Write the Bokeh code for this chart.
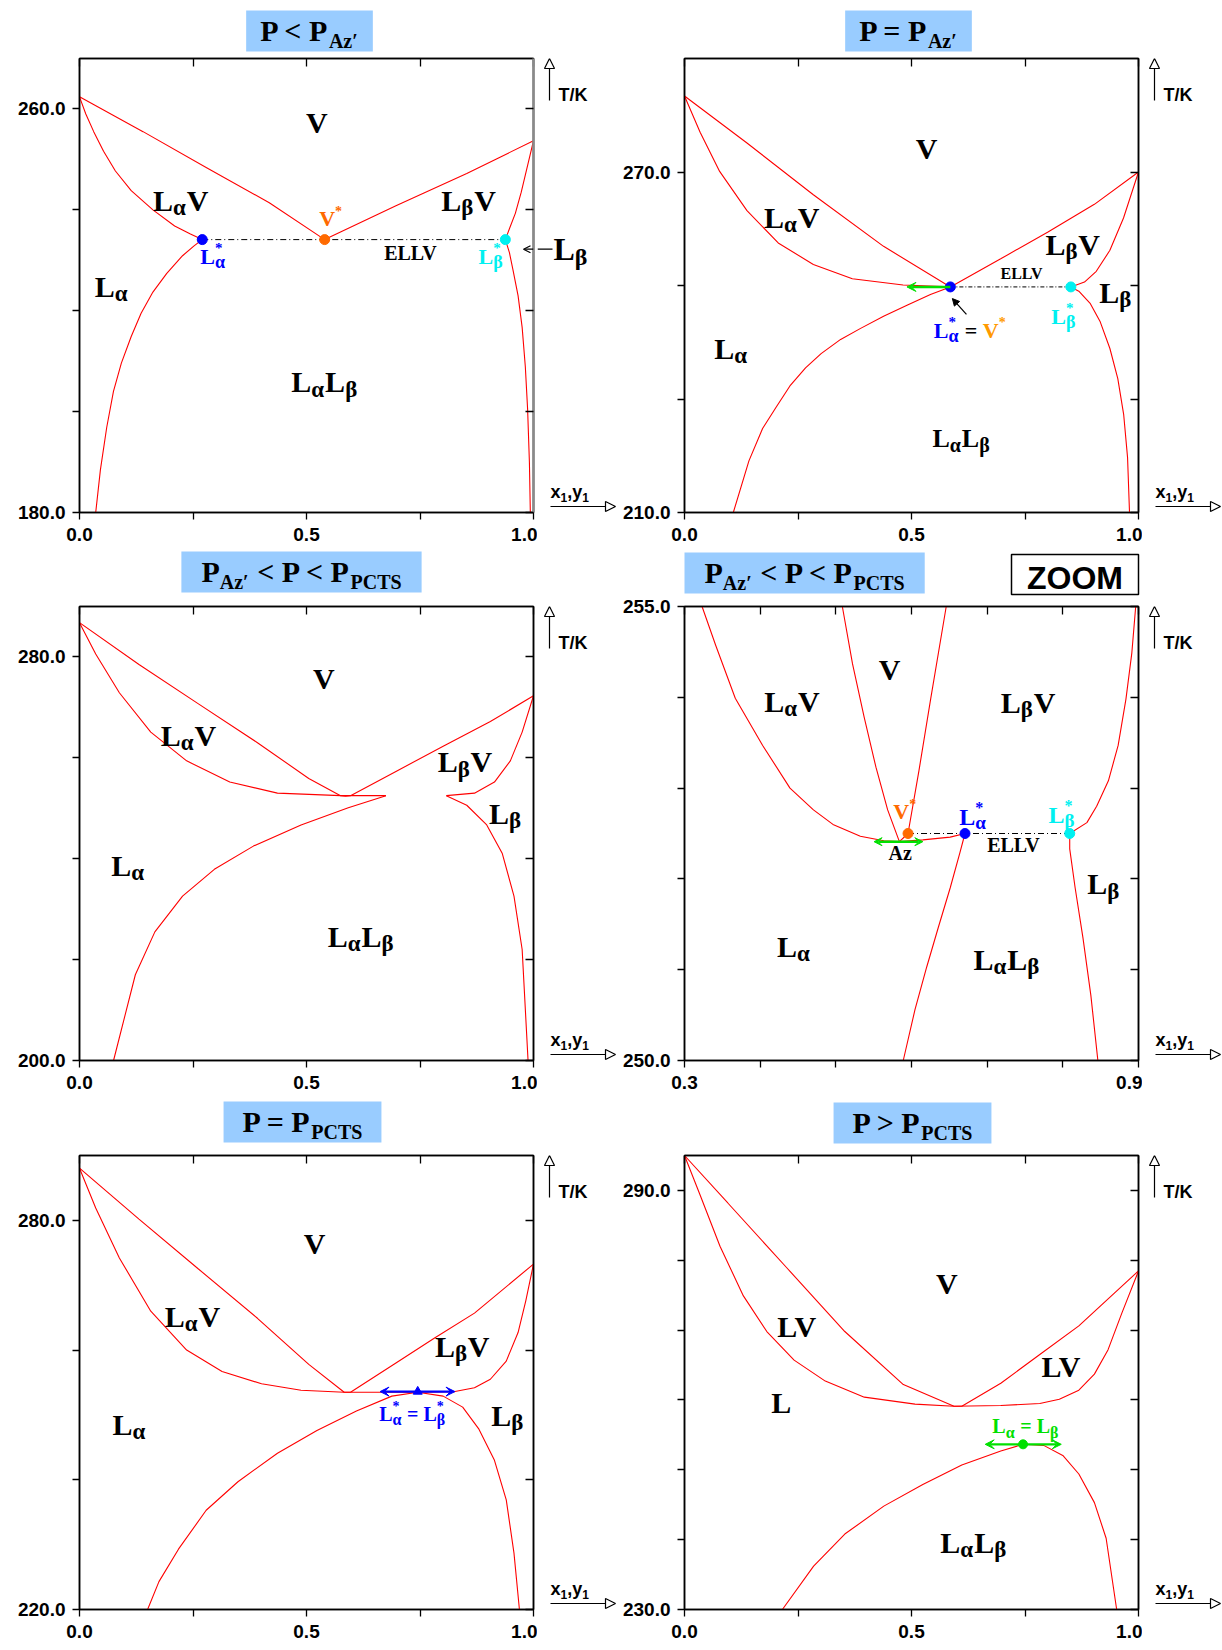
from bokeh.plotting import figure
from bokeh.models import (Range1d, LinearAxis, FixedTicker, PrintfTickFormatter,
                          Label, Arrow, NormalHead, VeeHead, OpenHead)
from bokeh.layouts import row, column
from bokeh.embed import file_html
from bokeh.resources import INLINE

# ------------------------------------------------------------------ data
# Panel 1 : P < P_Az'
P1_DEW_X = [0.0, 0.14, 0.279, 0.418, 0.54, 0.697, 0.853, 1.0]
P1_DEW_T = [262.4, 255.5, 248.4, 241.4, 234.1, 240.8, 247.2, 253.7]
P1_BUBA_X = [0.0, 0.0139, 0.0313, 0.053, 0.0791, 0.1139, 0.1617, 0.2096, 0.2443, 0.2704]
P1_BUBA_T = [262.4, 259.0, 255.5, 251.6, 247.7, 243.8, 240.0, 236.8, 235.2, 234.1]
P1_SOLA_X = [0.2704, 0.2530, 0.2270, 0.1922, 0.1617, 0.1357, 0.1139, 0.0922, 0.0748, 0.0600, 0.0461, 0.0357]
P1_SOLA_T = [234.1, 232.9, 230.9, 227.4, 223.7, 219.5, 214.9, 209.6, 204.0, 196.9, 188.5, 180.0]
P1_BUBB_X = [0.938, 0.948, 0.960, 0.973, 0.986, 1.0]
P1_BUBB_T = [234.1, 236.5, 239.3, 243.5, 248.4, 253.7]
P1_SOLB_X = [0.938, 0.947, 0.955, 0.966, 0.975, 0.982, 0.987, 0.991, 0.993]
P1_SOLB_T = [234.1, 231.5, 228.0, 223.0, 216.7, 208.9, 200.5, 189.9, 180.0]
P1_3PH_X = [0.2704, 0.54, 0.938]
P1_3PH_T = [234.1, 234.1, 234.1]
P1_LB_ARROW_T = 232.2

# Panel 2 : P = P_Az'
P2_DEW_X = [0.0, 0.1376, 0.2838, 0.4385, 0.5856, 0.6965, 0.7997, 0.9028, 1.0]
P2_DEW_T = [283.4, 275.1, 266.0, 256.9, 249.75, 254.7, 259.4, 264.3, 270.0]
P2_BUBA_X = [0.0, 0.0344, 0.0774, 0.1376, 0.2064, 0.2838, 0.3697, 0.4815, 0.5856]
P2_BUBA_T = [283.4, 277.0, 270.1, 263.2, 257.5, 253.7, 251.2, 250.1, 249.75]
P2_SOLA_X = [0.5856, 0.5417, 0.4901, 0.4385, 0.3869, 0.3439, 0.3009, 0.2666, 0.2322, 0.2021, 0.1720, 0.1419, 0.1075]
P2_SOLA_T = [249.75, 248.4, 246.5, 244.6, 242.4, 240.5, 238.0, 235.5, 232.3, 228.6, 224.8, 219.1, 210.0]
P2_BUBB_X = [0.851, 0.881, 0.907, 0.937, 0.967, 1.0]
P2_BUBB_T = [249.75, 250.6, 252.5, 256.2, 261.9, 270.0]
P2_SOLB_X = [0.851, 0.8685, 0.894, 0.9157, 0.937, 0.9544, 0.9673, 0.9759, 0.9802]
P2_SOLB_T = [249.75, 249.0, 246.8, 243.6, 238.9, 233.6, 227.3, 219.7, 210.0]
P2_3PH_X = [0.5856, 0.851]
P2_3PH_T = [249.75, 249.75]
P2_GREEN_X = [0.5856, 0.49]
P2_GREEN_T = [249.75, 249.75]
P2_BLACK_X = [0.621, 0.590]
P2_BLACK_T = [244.9, 247.7]

# Panel 3 : P_Az' < P < P_PCTS
P3_DEW_X = [0.0, 0.131, 0.262, 0.392, 0.505, 0.575, 0.586, 0.597, 0.697, 0.801, 0.905, 1.0]
P3_DEW_T = [286.8, 278.5, 270.7, 263.0, 255.9, 252.5, 252.4, 252.5, 257.3, 262.3, 267.2, 272.3]
P3_BUBA_X = [0.0, 0.0357, 0.0878, 0.157, 0.236, 0.331, 0.436, 0.575, 0.675]
P3_BUBA_T = [286.8, 280.6, 272.9, 265.1, 259.4, 255.2, 253.0, 252.5, 252.5]
P3_SOLA_X = [0.675, 0.592, 0.488, 0.383, 0.297, 0.227, 0.166, 0.123, 0.075]
P3_SOLA_T = [252.5, 250.1, 246.7, 242.5, 237.9, 232.6, 225.5, 217.0, 200.0]
P3_BUBB_X = [0.808, 0.870, 0.914, 0.949, 0.975, 1.0]
P3_BUBB_T = [252.5, 253.0, 255.2, 259.4, 265.1, 272.3]
P3_SOLB_X = [0.808, 0.853, 0.897, 0.931, 0.957, 0.975, 0.988]
P3_SOLB_T = [252.5, 250.6, 246.7, 241.1, 232.6, 222.0, 200.0]

# Panel 4 : zoom of panel 3
P4_BUBA_X = [0.3232, 0.3413, 0.3671, 0.4033, 0.4394, 0.4704, 0.4962, 0.5324, 0.5634, 0.5840, 0.6150, 0.6511, 0.6707]
P4_BUBA_T = [255.0, 254.57, 253.99, 253.47, 253.00, 252.76, 252.60, 252.47, 252.42, 252.41, 252.43, 252.46, 252.50]
P4_DEW_X = [0.5086, 0.5220, 0.5375, 0.5530, 0.5685, 0.5840, 0.5954, 0.6098, 0.6253, 0.6459]
P4_DEW_T = [255.0, 254.37, 253.78, 253.23, 252.76, 252.41, 252.50, 253.19, 253.98, 255.0]
P4_SOLA_X = [0.6707, 0.6640, 0.6511, 0.6356, 0.6201, 0.6046, 0.5891]
P4_SOLA_T = [252.50, 252.29, 251.90, 251.47, 251.03, 250.56, 250.0]
P4_BUBB_X = [0.8091, 0.8318, 0.8447, 0.8602, 0.8731, 0.8834, 0.8912, 0.8963]
P4_BUBB_T = [252.50, 252.62, 252.80, 253.08, 253.47, 253.98, 254.49, 255.0]
P4_SOLB_X = [0.8091, 0.8091, 0.8163, 0.8266, 0.8370, 0.8463]
P4_SOLB_T = [252.50, 252.33, 251.90, 251.35, 250.72, 250.0]
P4_3PH_X = [0.5954, 0.6707, 0.8091]
P4_3PH_T = [252.5, 252.5, 252.5]
P4_AZ_X = [0.5505, 0.6150]
P4_AZ_T = [252.41, 252.41]

# Panel 5 : P = P_PCTS
P5_DEW_X = [0.0, 0.131, 0.262, 0.392, 0.505, 0.583, 0.597, 0.697, 0.783, 0.870, 1.0]
P5_DEW_T = [288.05, 280.2, 272.5, 264.9, 257.8, 253.5, 253.5, 258.0, 261.9, 265.7, 273.26]
P5_BUB_X = [0.0, 0.0357, 0.0878, 0.157, 0.236, 0.314, 0.401, 0.488, 0.583, 0.662, 0.745, 0.827, 0.870, 0.905, 0.940, 0.966, 0.983, 1.0]
P5_BUB_T = [288.05, 281.9, 274.2, 266.0, 260.0, 256.7, 254.8, 253.8, 253.5, 253.5, 253.5, 253.6, 254.2, 255.5, 258.3, 262.7, 267.6, 273.26]
P5_SOLA_X = [0.745, 0.688, 0.610, 0.523, 0.436, 0.349, 0.279, 0.218, 0.175, 0.150]
P5_SOLA_T = [253.5, 252.9, 250.6, 247.6, 244.1, 239.7, 235.3, 229.3, 224.3, 220.0]
P5_SOLB_X = [0.745, 0.801, 0.844, 0.879, 0.914, 0.940, 0.957, 0.969]
P5_SOLB_T = [253.5, 252.9, 251.2, 247.9, 243.0, 236.9, 228.7, 220.0]
P5_PCTS_X = [0.662, 0.827]
P5_PCTS_T = [253.6, 253.6]
P5_MID_X = [0.745]
P5_MID_T = [253.6]

# Panel 6 : P > P_PCTS
P6_DEW_X = [0.0, 0.0954, 0.2242, 0.3531, 0.4820, 0.5936, 0.6108, 0.6967, 0.7826, 0.8686, 1.0]
P6_DEW_T = [295.0, 288.2, 279.0, 269.8, 262.2, 259.1, 259.1, 262.4, 266.5, 270.6, 278.47]
P6_BUB_X = [0.0, 0.0352, 0.0782, 0.1297, 0.1813, 0.2414, 0.3101, 0.3961, 0.5077, 0.5936, 0.6967, 0.7826, 0.8256, 0.8686, 0.9029, 0.9330, 0.9631, 1.0]
P6_BUB_T = [295.0, 289.2, 282.0, 274.9, 269.8, 265.7, 262.7, 260.4, 259.4, 259.1, 259.2, 259.5, 260.1, 261.4, 263.7, 267.2, 272.4, 278.47]
P6_LLE_X = [0.2156, 0.2844, 0.3531, 0.4390, 0.5249, 0.6108, 0.6967, 0.7457, 0.7912, 0.8342, 0.8686, 0.9029, 0.9287, 0.9519]
P6_LLE_T = [230.0, 236.2, 240.8, 244.8, 247.9, 250.7, 252.7, 253.65, 253.5, 252.0, 249.4, 245.3, 240.2, 230.0]
P6_UCST_X = [0.6624, 0.8299]
P6_UCST_T = [253.65, 253.65]
P6_MID_X = [0.7457]
P6_MID_T = [253.65]

# axes
X_RANGE = (0.0, 1.0)
X_MAJOR = [0.0, 0.5, 1.0]
X_MINOR = [0.25, 0.75]
P4_X_RANGE = (0.3, 0.9)
P4_X_MAJOR = [0.3, 0.9]
P4_X_MINOR = [0.4, 0.5, 0.6, 0.7, 0.8]
P1_Y = (180.0, 270.0, [180.0, 260.0], [200.0, 220.0, 240.0])
P2_Y = (210.0, 290.0, [210.0, 270.0], [230.0, 250.0])
P3_Y = (200.0, 290.0, [200.0, 280.0], [220.0, 240.0, 260.0])
P4_Y = (250.0, 255.0, [250.0, 255.0], [251.0, 252.0, 253.0, 254.0])
P5_Y = (220.0, 290.0, [220.0, 280.0], [240.0, 260.0])
P6_Y = (230.0, 295.0, [230.0, 290.0], [240.0, 250.0, 260.0, 270.0, 280.0])

# ------------------------------------------------------------------ style / layout
SERIF = "Liberation Serif"
SANS = "Liberation Sans"
K = "black"
RED = "#FF0000"
BLUE = "#0000FF"
CYAN = "#00F0F0"
ORANGE = "#FF6A00"
ORANGE2 = "#FF9A00"
GREEN = "#00E000"
TITLE_BG = "#99CCFF"
FRAME = 454
PAGE_W = 1221
COL_X = [79, 684]          # page x of each column's plot frame
PW = [537, 525]            # plot figure widths
PBL = [79, 67]             # plot left borders
PBR = 4
PBT = [4, 10, 4]           # plot top borders per row
SW = [80, 79]              # side strip widths
PBB = [38, 40, 39]
PH = [PBT[i] + FRAME + PBB[i] for i in range(3)]
TH = [54, 46, 51]          # title strip heights
BASE_FIX = {"Liberation Serif": 0.32, "Liberation Sans": 0.26}

SERIF_W = {"L": .667, "V": .722, "P": .611, "A": .722, "z": .444, "C": .722, "T": .667,
           "S": .556, "E": .667, " ": .25, "<": .57, ">": .57, "=": .57, "*": .5,
           "\u2032": .33, "\u03b1": .60, "\u03b2": .56}
SANS_W = {"T": .611, "/": .278, "K": .722, "x": .556, "y": .556, ",": .278, "1": .556,
          "Z": .611, "O": .778, "M": .833}


def run_w(text, size, font):
    tbl = SANS_W if font == SANS else SERIF_W
    return sum(tbl.get(c, 0.55) for c in text) * size


def runs_w(runs, font=SERIF):
    return sum(run_w(r[0], r[1], font) for r in runs if r[4])


def rich(p, x, y, runs, align="center", font=SERIF, ox=0.0, oy=0.0):
    total = runs_w(runs, font)
    cur = {"left": 0.0, "center": -total / 2.0, "right": -total}[align]
    for text, size, dy, color, adv in runs:
        w = run_w(text, size, font)
        lead = len(text) - len(text.lstrip(" "))
        p.add_layout(Label(x=x, y=y, x_offset=ox + cur + lead * 0.25 * size,
                           y_offset=oy + dy + BASE_FIX[font] * size,
                           text=text.strip(" "), text_font=font, text_font_size=f"{size}px",
                           text_font_style="bold", text_color=color, text_align="left",
                           text_baseline="alphabetic"))
        if adv:
            cur += w


A, B = "\u03b1", "\u03b2"


def Lg(g, s=30, ss=23, c=K):
    return [("L", s, 0, c, 1), (g, ss, -5, c, 1)]


def LV(g, s=30, ss=23):
    return Lg(g, s, ss) + [("V", s, 0, K, 1)]


def LL(s=30, ss=23):
    return Lg(A, s, ss) + Lg(B, s, ss)


def Lstar(g, c, s=22):
    return [("L", s, 0, c, 1), ("*", round(s * 0.68), round(s * 0.5), c, 0),
            (g, round(s * 0.8), -4, c, 1)]


def blank(width, height, xr, yr, bt=0, bb=0):
    f = figure(width=width, height=height, x_range=Range1d(*xr), y_range=Range1d(*yr),
               x_axis_type=None, y_axis_type=None, min_border=0, toolbar_location=None,
               output_backend="svg")
    f.min_border_left = 0
    f.min_border_right = 0
    f.min_border_top = bt
    f.min_border_bottom = bb
    f.outline_line_color = None
    f.background_fill_color = "white"
    f.border_fill_color = "white"
    return f


def panel(col, rw, xr, xmaj, xmin, ydef, right_color=K, right_w=1.5):
    y0, y1, ymaj, ymin = ydef
    p = figure(width=PW[col], height=PH[rw], x_range=Range1d(*xr), y_range=Range1d(y0, y1),
               output_backend="svg", toolbar_location=None,
               min_border_left=PBL[col], min_border_right=PBR,
               min_border_top=PBT[rw], min_border_bottom=PBB[rw])
    p.xgrid.visible = False
    p.ygrid.visible = False
    p.background_fill_color = "white"
    p.border_fill_color = "white"
    p.outline_line_color = K
    p.outline_line_width = 1.5
    xa, ya = p.xaxis[0], p.yaxis[0]
    for ax, maj, mn in ((xa, xmaj, xmin), (ya, ymaj, ymin)):
        ax.ticker = FixedTicker(ticks=maj, minor_ticks=mn)
        ax.formatter = PrintfTickFormatter(format="%.1f")
        ax.major_tick_in = 0
        ax.major_tick_out = 7
        ax.minor_tick_in = 0
        ax.minor_tick_out = 7
        ax.major_tick_line_color = K
        ax.minor_tick_line_color = K
        ax.major_tick_line_width = 1.3
        ax.minor_tick_line_width = 1.3
        ax.axis_line_color = K
        ax.axis_line_width = 1.5
        ax.major_label_text_font = SANS
        ax.major_label_text_font_style = "bold"
        ax.major_label_text_font_size = "19px"
        ax.major_label_text_color = K
    xa.major_label_standoff = 8
    ya.major_label_standoff = 7
    for loc, ticks, lc, lw in (("right", ymaj + ymin, right_color, right_w),
                               ("above", xmaj + xmin, K, 1.5)):
        ax = LinearAxis(ticker=FixedTicker(ticks=[], minor_ticks=ticks))
        ax.major_tick_in = 0
        ax.major_tick_out = 0
        ax.minor_tick_in = 8
        ax.minor_tick_out = 0
        ax.minor_tick_line_color = K
        ax.minor_tick_line_width = 1.3
        ax.axis_line_color = lc
        ax.axis_line_width = lw
        ax.major_label_standoff = 0
        p.add_layout(ax, loc)
    # side strip to the right of the frame (its frame lines up with the plot frame)
    sy = (y1 - y0) / FRAME
    s = blank(SW[col], PH[rw], (PBR, PBR + SW[col]), (y0, y1), bt=PBT[rw], bb=PBB[rw])
    s.add_layout(Arrow(end=NormalHead(size=10, fill_color="white", line_color=K, line_width=1.2),
                       x_start=16, y_start=y1 - 42 * sy, x_end=16, y_end=y1,
                       line_color=K, line_width=1.2))
    rich(s, 25, y1, [("T/K", 18, 0, K, 1)], align="left", font=SANS, oy=-41)
    s.add_layout(Arrow(end=NormalHead(size=10, fill_color="white", line_color=K, line_width=1.2),
                       x_start=17, y_start=y0 + 6 * sy, x_end=82, y_end=y0 + 6 * sy,
                       line_color=K, line_width=1.2))
    rich(s, 17, y0, [("x", 18, 0, K, 1), ("1", 12, -4, K, 1), (",", 18, 0, K, 1),
                     ("y", 18, 0, K, 1), ("1", 12, -4, K, 1)], align="left", font=SANS, oy=16)
    return p, s


def title(t, cx, top, runs, pad, align="center"):
    total = runs_w(runs)
    left = {"center": cx - total / 2.0 - pad, "left": cx}[align]
    t.quad(left=[left], right=[left + total + 2 * pad], top=[top], bottom=[top + 41],
           fill_color=TITLE_BG, line_color=None)
    rich(t, left + pad, top + 30, runs, align="left")


def curve(p, x, t):
    p.line(x, t, line_color=RED, line_width=1.1)


def tie(p, x, t, dash="6 3 1 3"):
    p.line([x[0], x[-1]], [t[0], t[-1]], line_color=K, line_width=1.0, line_dash=dash)


def dots(p, x, t, colors, size=10, marker="circle"):
    p.scatter(x, t, size=size, marker=marker, fill_color=colors, line_color=colors)


def dbl_arrow(p, x, t, color, width=2.2, size=9):
    p.add_layout(Arrow(start=VeeHead(size=size, fill_color=color, line_color=color),
                       end=VeeHead(size=size, fill_color=color, line_color=color),
                       x_start=x[0], y_start=t[0], x_end=x[1], y_end=t[1],
                       line_color=color, line_width=width))


t1 = blank(PAGE_W, TH[0], (0, PAGE_W), (TH[0], 0))
t2 = blank(PAGE_W, TH[1], (0, PAGE_W), (TH[1], 0))
t3 = blank(PAGE_W, TH[2], (0, PAGE_W), (TH[2], 0))
PAP = [("P", 30, 0, K, 1), ("Az\u2032", 20, -7, K, 1), (" < P < P", 30, 0, K, 1),
       ("PCTS", 20, -7, K, 1)]

# ------------------------------------------------------------------ panel 1
p1, s1 = panel(0, 0, X_RANGE, X_MAJOR, X_MINOR, P1_Y, right_color="#8a8a8a", right_w=2.5)
for xs, ts in ((P1_DEW_X, P1_DEW_T), (P1_BUBA_X, P1_BUBA_T), (P1_SOLA_X, P1_SOLA_T),
               (P1_BUBB_X, P1_BUBB_T), (P1_SOLB_X, P1_SOLB_T)):
    curve(p1, xs, ts)
tie(p1, P1_3PH_X, P1_3PH_T)
dots(p1, P1_3PH_X, P1_3PH_T, [BLUE, ORANGE, CYAN])
title(t1, COL_X[0] + 230, 10, [("P < P", 30, 0, K, 1), ("Az\u2032", 20, -7, K, 1)], 14)
rich(p1, 0.523, 255.5, [("V", 30, 0, K, 1)])
rich(p1, 0.223, 240.0, LV(A))
rich(p1, 0.857, 240.0, LV(B))
rich(p1, 0.528, 236.8, [("V", 22, 0, ORANGE, 1), ("*", 14, 10, ORANGE, 1)], align="left")
rich(p1, 0.266, 229.4, Lstar(A, BLUE), align="left")
rich(p1, 0.731, 230.2, [("ELLV", 20, 0, K, 1)])
rich(p1, 0.879, 229.4, Lstar(B, CYAN), align="left")
rich(p1, 0.071, 222.9, Lg(A))
rich(p1, 0.54, 204.0, LL())
p1.add_layout(Arrow(end=OpenHead(size=7, line_color=K, line_width=1.2),
                    x_start=1.0, y_start=P1_LB_ARROW_T,
                    x_end=1.0 - 10 * (X_RANGE[1] - X_RANGE[0]) / FRAME, y_end=P1_LB_ARROW_T,
                    line_color=K, line_width=1.2))
s1.line([PBR, 19], [P1_LB_ARROW_T, P1_LB_ARROW_T], line_color=K, line_width=1.2)
rich(s1, 20, 230.2, Lg(B, 32, 24), align="left")

# ------------------------------------------------------------------ panel 2
p2, s2 = panel(1, 0, X_RANGE, X_MAJOR, X_MINOR, P2_Y)
for xs, ts in ((P2_DEW_X, P2_DEW_T), (P2_BUBA_X, P2_BUBA_T), (P2_SOLA_X, P2_SOLA_T),
               (P2_BUBB_X, P2_BUBB_T), (P2_SOLB_X, P2_SOLB_T)):
    curve(p2, xs, ts)
tie(p2, P2_3PH_X, P2_3PH_T, dash="4 2 1 2")
p2.add_layout(Arrow(end=VeeHead(size=9, fill_color=GREEN, line_color=GREEN),
                    x_start=P2_GREEN_X[0], y_start=P2_GREEN_T[0], x_end=P2_GREEN_X[1],
                    y_end=P2_GREEN_T[1], line_color=GREEN, line_width=2.5))
p2.add_layout(Arrow(end=NormalHead(size=7, fill_color=K, line_color=K),
                    x_start=P2_BLACK_X[0], y_start=P2_BLACK_T[0], x_end=P2_BLACK_X[1],
                    y_end=P2_BLACK_T[1], line_color=K, line_width=1.2))
dots(p2, P2_3PH_X, P2_3PH_T, [BLUE, CYAN])
title(t1, COL_X[1] + 224, 10, [("P = P", 30, 0, K, 1), ("Az\u2032", 20, -7, K, 1)], 14)
rich(p2, 0.533, 272.4, [("V", 30, 0, K, 1)])
rich(p2, 0.236, 260.3, LV(A))
rich(p2, 0.855, 255.6, LV(B))
rich(p2, 0.744, 251.3, [("ELLV", 16, 0, K, 1)])
rich(p2, 0.950, 247.1, Lg(B))
rich(p2, 0.808, 243.3, Lstar(B, CYAN), align="left")
rich(p2, 0.549, 240.8, Lstar(A, BLUE) + [(" = ", 22, 0, K, 1), ("V", 22, 0, ORANGE2, 1),
                                         ("*", 14, 11, ORANGE2, 1)], align="left")
rich(p2, 0.103, 237.2, Lg(A))
rich(p2, 0.61, 221.6, LL(26, 20))

# ------------------------------------------------------------------ panel 3
p3, s3 = panel(0, 1, X_RANGE, X_MAJOR, X_MINOR, P3_Y)
for xs, ts in ((P3_DEW_X, P3_DEW_T), (P3_BUBA_X, P3_BUBA_T), (P3_SOLA_X, P3_SOLA_T),
               (P3_BUBB_X, P3_BUBB_T), (P3_SOLB_X, P3_SOLB_T)):
    curve(p3, xs, ts)
title(t2, COL_X[0] + 222, 1, PAP, 20)
rich(p3, 0.538, 273.9, [("V", 30, 0, K, 1)])
rich(p3, 0.24, 262.6, LV(A))
rich(p3, 0.849, 257.3, LV(B))
rich(p3, 0.938, 247.1, Lg(B))
rich(p3, 0.107, 236.8, Lg(A))
rich(p3, 0.62, 222.7, LL())

# ------------------------------------------------------------------ panel 4
p4, s4 = panel(1, 1, P4_X_RANGE, P4_X_MAJOR, P4_X_MINOR, P4_Y)
for xs, ts in ((P4_BUBA_X, P4_BUBA_T), (P4_DEW_X, P4_DEW_T), (P4_SOLA_X, P4_SOLA_T),
               (P4_BUBB_X, P4_BUBB_T), (P4_SOLB_X, P4_SOLB_T)):
    curve(p4, xs, ts)
tie(p4, [P4_3PH_X[0], P4_3PH_X[-1]], [P4_3PH_T[0], P4_3PH_T[-1]])
dbl_arrow(p4, P4_AZ_X, P4_AZ_T, GREEN, width=2.5, size=8)
dots(p4, P4_3PH_X, P4_3PH_T, [ORANGE, BLUE, CYAN])
title(t2, COL_X[1], 2, PAP, 20, align="left")
t2.quad(left=[COL_X[1] + FRAME - 127], right=[COL_X[1] + FRAME], top=[4], bottom=[44],
        fill_color="white", line_color=K, line_width=1.5)
rich(t2, COL_X[1] + FRAME - 63.5, 35.5, [("ZOOM", 32, 0, K, 1)], font=SANS)
rich(p4, 0.571, 254.20, [("V", 30, 0, K, 1)])
rich(p4, 0.442, 253.85, LV(A))
rich(p4, 0.754, 253.84, LV(B))
rich(p4, 0.576, 252.66, [("V", 22, 0, ORANGE, 1), ("*", 14, 10, ORANGE, 1)], align="left")
rich(p4, 0.663, 252.60, Lstar(A, BLUE, 24), align="left")
rich(p4, 0.781, 252.62, Lstar(B, CYAN, 24), align="left")
rich(p4, 0.736, 252.30, [("ELLV", 20, 0, K, 1)])
rich(p4, 0.585, 252.21, [("Az", 20, 0, K, 1)])
rich(p4, 0.854, 251.84, Lg(B))
rich(p4, 0.4446, 251.15, Lg(A))
rich(p4, 0.726, 251.01, LL())

# ------------------------------------------------------------------ panel 5
p5, s5 = panel(0, 2, X_RANGE, X_MAJOR, X_MINOR, P5_Y)
for xs, ts in ((P5_DEW_X, P5_DEW_T), (P5_BUB_X, P5_BUB_T), (P5_SOLA_X, P5_SOLA_T),
               (P5_SOLB_X, P5_SOLB_T)):
    curve(p5, xs, ts)
dbl_arrow(p5, P5_PCTS_X, P5_PCTS_T, BLUE, width=2.2, size=9)
dots(p5, P5_MID_X, P5_MID_T, [BLUE], size=9, marker="triangle")
title(t3, COL_X[0] + 223, 1, [("P = P", 30, 0, K, 1), ("PCTS", 20, -7, K, 1)], 19)
rich(p5, 0.518, 275.0, [("V", 30, 0, K, 1)])
rich(p5, 0.249, 263.7, LV(A))
rich(p5, 0.843, 259.1, LV(B))
rich(p5, 0.943, 248.4, Lg(B))
rich(p5, 0.110, 247.1, Lg(A))
rich(p5, 0.660, 249.1, Lstar(A, BLUE, 20) + [(" = ", 20, 0, BLUE, 1)] + Lstar(B, BLUE, 20),
     align="left")

# ------------------------------------------------------------------ panel 6
p6, s6 = panel(1, 2, X_RANGE, X_MAJOR, X_MINOR, P6_Y)
for xs, ts in ((P6_DEW_X, P6_DEW_T), (P6_BUB_X, P6_BUB_T), (P6_LLE_X, P6_LLE_T)):
    curve(p6, xs, ts)
dbl_arrow(p6, P6_UCST_X, P6_UCST_T, GREEN, width=2.2, size=9)
dots(p6, P6_MID_X, P6_MID_T, [GREEN], size=9)
title(t3, COL_X[1] + 228, 2, [("P > P", 30, 0, K, 1), ("PCTS", 20, -7, K, 1)], 19)
rich(p6, 0.578, 275.3, [("V", 30, 0, K, 1)])
rich(p6, 0.25, 269.2, [("LV", 30, 0, K, 1)])
rich(p6, 0.832, 263.4, [("LV", 30, 0, K, 1)])
rich(p6, 0.213, 258.3, [("L", 30, 0, K, 1)])
rich(p6, 0.678, 255.3, Lg(A, 20, 16, GREEN) + [(" = ", 20, 0, GREEN, 1)] + Lg(B, 20, 16, GREEN),
     align="left")
rich(p6, 0.637, 238.2, LL())

layout = column(t1, row(p1, s1, p2, s2, spacing=0),
                t2, row(p3, s3, p4, s4, spacing=0),
                t3, row(p5, s5, p6, s6, spacing=0), spacing=0)
open("out.html", "w").write(file_html(layout, INLINE))
